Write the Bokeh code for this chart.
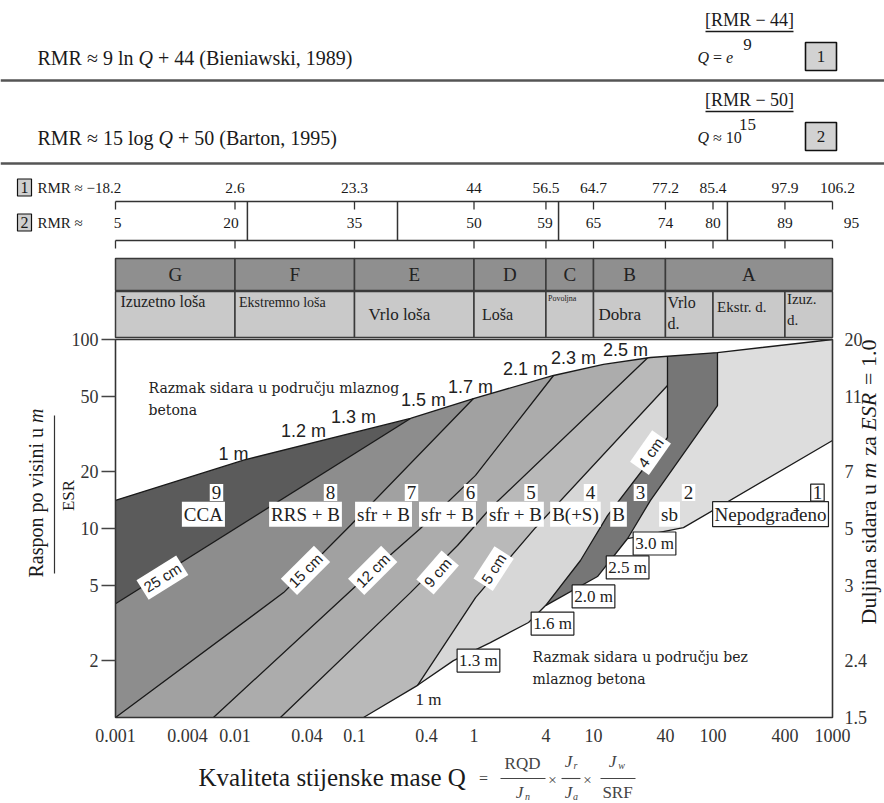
from bokeh.plotting import figure
from bokeh.models import Range1d, LinearScale, LogAxis, FixedTicker, Label
from bokeh.embed import file_html
from bokeh.resources import INLINE
from bokeh.core.properties import value

# ---------------- data ----------------
q_ticks = [0.001, 0.004, 0.01, 0.04, 0.1, 0.4, 1, 4, 10, 40, 100, 400, 1000]
q_tick_labels = ["0.001", "0.004", "0.01", "0.04", "0.1", "0.4", "1", "4", "10", "40", "100", "400", "1000"]
span_ticks = [2, 5, 10, 20, 50, 100]
span_tick_labels = ["2", "5", "10", "20", "50", "100"]
bolt_ticks = [1, 2, 5, 10, 20, 50, 100]
bolt_tick_labels = ["1.5", "2.4", "3", "5", "7", "11", "20"]

rmr_q = [0.001, 0.01, 0.1, 1, 4, 10, 40, 100, 400, 1000]
rmr_bieniawski = ["−18.2", "2.6", "23.3", "44", "56.5", "64.7", "77.2", "85.4", "97.9", "106.2"]
rmr_barton = ["5", "20", "35", "50", "59", "65", "74", "80", "89", "95"]
rmr_divider_q = [0.0127, 0.229, 5.1, 132]

class_letters = ["G", "F", "E", "D", "C", "B", "A"]
class_edges = [0.001, 0.01, 0.1, 1, 4, 10, 40, 1000]
class_names = ["Izuzetno loša", "Ekstremno loša", "Vrlo loša", "Loša", "Povoljna", "Dobra",
               "Vrlo\nd.", "Ekstr. d.", "Izuz.\nd."]
name_edges = [0.001, 0.01, 0.1, 1, 4, 10, 40, 100, 400, 1000]

# boundary curves: Q vs Span/ESR
top_q = [0.001, 0.0118, 0.294, 0.99, 4.63, 12.1, 30.0, 109, 1000]
top_s = [14.1, 23.0, 38.2, 48.7, 64.5, 73.8, 80.3, 85.3, 100]
b98_q = [0.001, 0.294]
b98_s = [4.0, 38.2]
b87_q = [0.001, 0.0255, 0.0927, 0.99]
b87_s = [1.0, 4.58, 10.4, 48.7]
b76_q = [0.0066, 0.136, 0.356, 1.03, 4.63]
b76_s = [1.0, 5.85, 10.0, 19.1, 64.5]
b65_q = [0.024, 0.294, 0.728, 1.37, 28.3]
b65_s = [1.0, 4.58, 8.13, 12.8, 79.9]
b54_q = [0.337, 1.03, 3.27, 41.6]
b54_s = [1.48, 4.31, 10.1, 57.1]
band_l_q = [3.97, 7.78, 13.1, 41.6, 41.6]
band_l_s = [3.91, 6.77, 11.7, 30.3, 81.5]
band_r_q = [19.3, 30.0, 109, 109]
band_r_s = [8.85, 14.1, 44.7, 85.3]
bolt_q = [0.119, 0.337, 0.673, 1.37, 2.86, 3.97, 10.8, 19.3, 56.6, 1000]
bolt_s = [1.0, 1.48, 2.0, 2.49, 3.18, 3.91, 5.57, 8.85, 10.1, 29.2]

zone_ids = ["9", "8", "7", "6", "5", "4", "3", "2", "1"]
zone_codes = ["CCA", "RRS + B", "sfr + B", "sfr + B", "sfr + B", "B(+S)", "B", "sb", "Nepodgrađeno"]
top_spacing = ["1 m", "1.2 m", "1.3 m", "1.5 m", "1.7 m", "2.1 m", "2.3 m", "2.5 m"]
bottom_spacing = ["1 m", "1.3 m", "1.6 m", "2.0 m", "2.5 m", "3.0 m"]
thickness = ["25 cm", "15 cm", "12 cm", "9 cm", "5 cm", "4 cm"]

# ---------------- layout / label anchors ----------------
id_pos = [(0.0070, 15.5), (0.063, 15.5), (0.30, 15.5), (0.936, 15.5), (3.0, 15.5), (9.44, 15.5),
          (24.7, 15.5), (62.4, 15.5), (748, 15.5)]
code_pos = [(0.00544, 11.9), (0.0389, 11.9), (0.175, 11.9), (0.60, 11.9), (2.22, 11.9), (7.06, 11.9),
            (16.2, 11.9), (43.3, 11.9), (303, 11.9)]
top_sp_pos = [(0.0097, 24.9), (0.0374, 33.0), (0.0982, 39.1), (0.378, 47.6), (0.936, 56.4),
              (2.70, 69.4), (6.80, 80.3), (18.5, 88.5)]
bot_sp_pos = [(0.416, 1.24), (1.09, 2.0), (4.54, 3.14), (10.0, 4.37), (19.3, 6.22), (32.4, 8.33)]
thick_pos = [(0.00247, 5.5, 32), (0.0389, 6.0, 45), (0.142, 6.0, 45), (0.496, 5.85, 49),
             (1.46, 6.14, 57), (30.0, 25.2, 55)]

SERIF = "Liberation Serif"
SANS = "Liberation Sans"
INK = "#1a1a1a"

TW = {' ': 250, '(': 333, ')': 333, '+': 564, ',': 250, '.': 250, '=': 564, '≈': 549, '−': 564,
      '[': 333, ']': 333, 'A': 722, 'B': 667, 'C': 667, 'D': 722, 'E': 611, 'F': 556, 'G': 722,
      'J': 389, 'K': 722, 'M': 889, 'N': 722, 'Q': 722, 'R': 667, 'S': 556, 'a': 444, 'b': 500,
      'c': 444, 'd': 500, 'e': 444, 'g': 500, 'i': 278, 'j': 278, 'k': 500, 'l': 278, 'm': 778,
      'n': 500, 'o': 500, 'p': 500, 'r': 333, 's': 389, 't': 278, 'u': 500, 'v': 500, 'w': 722,
      'z': 444}


def tw(s, px):
    return sum(TW.get(c, 500) for c in s) * px / 1000.0


# ---------------- page geometry (one full-page frame) ----------------
W, H = 884, 803
FX0, FX1, FY_TOP, FY_BOT = 115, 832, 339, 717      # plot box in page pixels
PX_DEC = (FX1 - FX0) / 6.0                         # pixels per decade of Q
PY_DEC = (FY_BOT - FY_TOP) / 2.0                   # pixels per decade of span
x_lo = 10 ** (-3 - FX0 / PX_DEC)
x_hi = 10 ** (3 + (W - FX1) / PX_DEC)
y_lo = 10 ** (0 - (H - FY_BOT) / PY_DEC)
y_hi = 10 ** (2 + FY_TOP / PY_DEC)

p = figure(width=W, height=H, x_axis_type="log", y_axis_type="log",
           x_range=Range1d(x_lo, x_hi), y_range=Range1d(y_lo, y_hi),
           x_axis_location=None, y_axis_location=None,
           toolbar_location=None, output_backend="svg", min_border=0,
           outline_line_color=None)
p.extra_x_ranges = {"px": Range1d(0, W)}
p.extra_x_scales = {"px": LinearScale()}
p.extra_y_ranges = {"py": Range1d(H, 0)}
p.extra_y_scales = {"py": LinearScale()}
p.grid.visible = False


def lab(x, y, text, size, font=SERIF, align="center", baseline="middle", color=INK, style="normal",
        angle=0, bg=None, border=None, pad=0, xo=0, xr="default", yr="default"):
    p.add_layout(Label(x=x, y=y, text=text, text_font=font, text_font_size=f"{size}px",
                       text_align=align, text_baseline=baseline, text_color=color,
                       text_font_style=style, angle=angle, angle_units="deg", x_offset=xo,
                       background_fill_color=bg, border_line_color=border, border_line_width=1.2,
                       padding=pad, x_range_name=xr, y_range_name=yr))


def ptext(x, y, txt, size, align="left", style="normal", color=INK):
    p.text(x=[x], y=[y], text=[txt], x_range_name="px", y_range_name="py",
           text_font=value(SERIF), text_font_size=f"{size}px", text_font_style=style,
           text_baseline="middle", text_align=align, text_color=color)


def pseg(x0, y0, x1, y1, color=INK, width=1.3):
    p.segment(x0=[x0], y0=[y0], x1=[x1], y1=[y1], x_range_name="px", y_range_name="py",
              line_color=color, line_width=width)


def seq_text(x, y, pieces, size):
    # SVG drops leading blanks, so advance past them explicitly
    for txt, style in pieces:
        lead = len(txt) - len(txt.lstrip(" "))
        ptext(x + tw(" " * lead, size), y, txt.strip(" "), size, style=style)
        x += tw(txt, size)


def seq_vertical(x, y, pieces, size):
    for txt, style in pieces:
        lead = len(txt) - len(txt.lstrip(" "))
        lab(x, y - tw(" " * lead, size), txt.strip(" "), size, align="left", angle=90, style=style,
            xr="px", yr="py")
        y -= tw(txt, size)


# ================= header formulas =================
for (y, yline, left_pieces, right_pieces, expo, den, box) in [
        (57, 80, [("RMR ≈ 9 ln ", "normal"), ("Q", "italic"), (" + 44 (Bieniawski, 1989)", "normal")],
         [("Q", "italic"), (" = ", "normal"), ("e", "italic")], "[RMR − 44]", "9", "1"),
        (137, 163, [("RMR ≈ 15 log ", "normal"), ("Q", "italic"), (" + 50 (Barton, 1995)", "normal")],
         [("Q", "italic"), (" ≈ 10", "normal")], "[RMR − 50]", "15", "2")]:
    seq_text(37, y, left_pieces, 20)
    seq_text(697, y, right_pieces, 16)
    ptext(749, y - 38, expo, 18, align="center")
    pseg(705, y - 26, 793, y - 26, width=1.4)
    ptext(747, y - 13, den, 17, align="center")
    p.quad(left=[805], right=[836], top=[y - 15], bottom=[y + 13], x_range_name="px",
           y_range_name="py", fill_color="#d2d2d2", line_color="#111111", line_width=1.6)
    ptext(820.5, y - 1, box, 17, align="center")
    pseg(0, yline, W, yline, color="#555555", width=2.5)

# ================= support chart =================
def region_right_of(bq, bs):
    xs = [bq[0]] + list(bq) + [bq[-1], 1000, 1000]
    ys = [1] + list(bs) + [100, 100, 1]
    return xs, ys


fills = [("#5b5b5b", ([0.001, 0.001, 1000, 1000], [1, 100, 100, 1])),
         ("#8d8d8d", region_right_of(b98_q, b98_s)),
         ("#a1a1a1", region_right_of(b87_q, b87_s)),
         ("#acacac", region_right_of(b76_q, b76_s)),
         ("#b9b9b9", region_right_of(b65_q, b65_s)),
         ("#d7d7d7", region_right_of(b54_q, b54_s)),
         ("#767676", region_right_of(band_l_q, band_l_s)),
         ("#dddddd", region_right_of(band_r_q, band_r_s)),
         ("white", (bolt_q + [1000], bolt_s + [1])),
         ("white", (top_q + [0.001], top_s + [100]))]
for col, (xs, ys) in fills:
    p.patch(x=xs, y=ys, fill_color=col, line_color=None)

for bq, bs in [(top_q, top_s), (b98_q, b98_s), (b87_q, b87_s), (b76_q, b76_s), (b65_q, b65_s),
               (b54_q, b54_s), (band_l_q, band_l_s), (band_r_q, band_r_s), (bolt_q, bolt_s)]:
    p.line(x=bq, y=bs, line_color=INK, line_width=1.3)

p.quad(left=[0.001], right=[1000], bottom=[1], top=[100], fill_color=None,
       line_color="#333333", line_width=1.6)

# ---- axes at the plot box ----
def style_axis(ax, size="18px"):
    ax.axis_line_color = None
    ax.minor_tick_line_color = None
    ax.major_label_text_font = SERIF
    ax.major_label_text_font_size = size
    ax.major_label_text_color = "#333333"


ax_b = LogAxis(fixed_location=1, ticker=FixedTicker(ticks=q_ticks),
               major_label_overrides=dict(zip(q_ticks, q_tick_labels)))
style_axis(ax_b)
ax_b.major_tick_line_color = None
ax_b.major_label_standoff = 5
p.add_layout(ax_b, "below")

ax_l = LogAxis(fixed_location=0.001, ticker=FixedTicker(ticks=span_ticks),
               major_label_overrides=dict(zip(span_ticks, span_tick_labels)))
style_axis(ax_l)
ax_l.major_tick_out = 14
ax_l.major_tick_in = 0
ax_l.major_tick_line_color = "#444444"
ax_l.major_tick_line_width = 1.5
ax_l.major_label_standoff = 3
p.add_layout(ax_l, "left")

ax_r = LogAxis(fixed_location=1000, ticker=FixedTicker(ticks=bolt_ticks),
               major_label_overrides=dict(zip(bolt_ticks, bolt_tick_labels)))
style_axis(ax_r)
ax_r.major_tick_line_color = None
ax_r.major_label_standoff = 6
p.add_layout(ax_r, "right")

# ---- RMR scales ----
n = len(rmr_q)
p.segment(x0=[0.001, 0.001], x1=[1000, 1000], y0=[201, 240], y1=[201, 240], y_range_name="py",
          line_color="#333333", line_width=1.5)
for y0 in (201, 240):
    p.segment(x0=rmr_q, x1=rmr_q, y0=[y0] * n, y1=[y0 + 8] * n, y_range_name="py",
              line_color="#333333", line_width=1.3)
p.segment(x0=rmr_divider_q, x1=rmr_divider_q, y0=[201] * 4, y1=[240] * 4, y_range_name="py",
          line_color="#333333", line_width=1.5)
rmr_xoff = [0, 0, 0, 0, 0, 0, 0, 0, 0, 5]
rmr2_xoff = [2, -4, 0, 0, -1, 0, 0, 0, 0, 19]
for i, q in enumerate(rmr_q):
    if i == 0:
        lab(37, 187, "RMR ≈ " + rmr_bieniawski[0], 15, align="left", xr="px", yr="py")
        lab(37, 222, "RMR ≈", 15, align="left", xr="px", yr="py")
    else:
        lab(q, 187, rmr_bieniawski[i], 15.5, align="center", xo=rmr_xoff[i], yr="py")
    lab(q, 222, rmr_barton[i], 15.5, align="center", xo=rmr2_xoff[i], yr="py")
for txt, y in (("1", 187), ("2", 222)):
    lab(24, y, txt, 16, bg="#cfcfcf", border="#111111", pad=3, xr="px", yr="py")

# ---- rock classes ----
p.quad(left=class_edges[:-1], right=class_edges[1:], top=[258] * 7, bottom=[290] * 7,
       y_range_name="py", fill_color="#8f8f8f", line_color="#3a3a3a", line_width=1.5)
centers = [(a * b) ** 0.5 for a, b in zip(class_edges[:-1], class_edges[1:])]
p.text(x=centers, y=[274] * 7, text=class_letters, y_range_name="py", text_font=value(SERIF),
       text_font_size="19px", text_align="center", text_baseline="middle", text_color="#222222")
p.quad(left=name_edges[:-1], right=name_edges[1:], top=[291] * 9, bottom=[337] * 9,
       y_range_name="py", fill_color="#c9c9c9", line_color="#3a3a3a", line_width=1.5)
name_xo = [5, 4, 14, 8, 2, 5, 2, 4, 2]
name_y = [301, 302, 314, 314, 298, 314, 302, 306, 298]
name_size = [16, 14, 17, 16, 8, 17, 16, 15, 15]
for q0, txt, xo, y, sz in zip(name_edges[:-1], class_names, name_xo, name_y, name_size):
    for k, line in enumerate(txt.split("\n")):
        p.text(x=[q0], y=[y + 21 * k], text=[line], y_range_name="py", x_offset=xo,
               text_font=value(SERIF), text_font_size=f"{sz}px", text_align="left",
               text_baseline="middle", text_color="#222222")

# ---- annotations inside the chart ----
lab(0.00189, 55.7, "Razmak sidara u području mlaznog", 14, font="DejaVu Serif", align="left",
    color="#222222")
lab(0.00189, 42.6, "betona", 14, font="DejaVu Serif", align="left", color="#222222")
lab(3.09, 2.08, "Razmak sidara u području bez", 14, font="DejaVu Serif", align="left",
    color="#222222")
lab(3.09, 1.59, "mlaznog betona", 14, font="DejaVu Serif", align="left", color="#222222")

for txt, (q, s) in zip(top_spacing, top_sp_pos):
    lab(q, s, txt, 18, font=SANS, color="#222222")
for i, (txt, (q, s)) in enumerate(zip(bottom_spacing, bot_sp_pos)):
    if i == 0:
        lab(q, s, txt, 17, color="#222222")
    else:
        lab(q, s, txt, 17, color="#222222", bg="white", border="#222222", pad=2)
for txt, (q, s, ang) in zip(thickness, thick_pos):
    lab(q, s, txt, 15, font=SANS, color="#222222", angle=ang, bg="white", pad=3)
for i in range(9):
    boxed = "#222222" if zone_ids[i] == "1" else None
    lab(id_pos[i][0], id_pos[i][1], zone_ids[i], 19, bg="white", border=boxed, pad=2,
        color="#222222")
    lab(code_pos[i][0], code_pos[i][1], zone_codes[i], 19, bg="white", border=boxed, pad=2,
        color="#222222")

# ---- axis titles ----
seq_vertical(35, 577, [("Raspon po visini u ", "normal"), ("m", "italic")], 20)
pseg(54, 415, 54, 573, color="#333333", width=1.2)
lab(68, 495, "ESR", 17, angle=90, xr="px", yr="py")
seq_vertical(868, 624, [("Duljina sidara u ", "normal"), ("m", "italic"), (" za ", "normal"),
                        ("ESR", "italic"), (" = 1.0", "normal")], 22)

ptext(198, 777, "Kvaliteta stijenske mase Q", 25)
FC = "#444444"
ptext(483, 778, "=", 16, align="center", color=FC)
ptext(522, 763, "RQD", 17, align="center", color=FC)
ptext(519, 792, "J", 17, align="center", style="italic", color=FC)
ptext(527, 796, "n", 10, align="center", style="italic", color=FC)
ptext(552, 779, "×", 15, align="center", color=FC)
ptext(568, 761, "J", 17, align="center", style="italic", color=FC)
ptext(575, 765, "r", 10, align="center", style="italic", color=FC)
ptext(568, 792, "J", 17, align="center", style="italic", color=FC)
ptext(575, 796, "a", 10, align="center", style="italic", color=FC)
ptext(587, 779, "×", 15, align="center", color=FC)
ptext(612, 761, "J", 17, align="center", style="italic", color=FC)
ptext(621, 765, "w", 10, align="center", style="italic", color=FC)
ptext(617, 792, "SRF", 17, align="center", color=FC)
for x0, x1 in [(500, 545), (561, 580), (600, 635)]:
    pseg(x0, 778, x1, 778, color=FC, width=1.1)

open("out.html", "w").write(file_html(p, INLINE))
